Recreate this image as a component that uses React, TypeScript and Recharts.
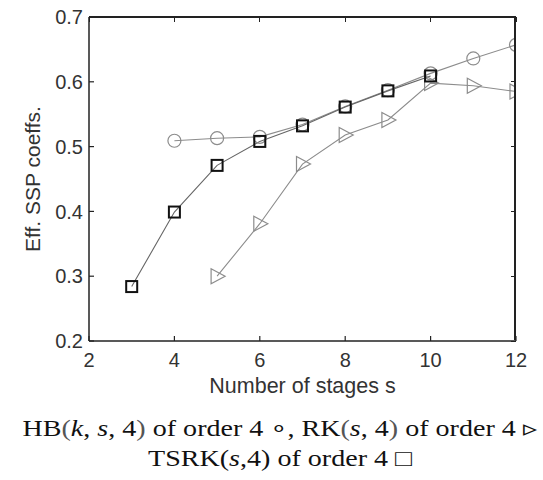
import React from 'react';
import { LineChart, Line, XAxis, YAxis } from 'recharts';

const stages = [3, 4, 5, 6, 7, 8, 9, 10, 11, 12];
const hbValues = [null, 0.509, 0.513, 0.515, 0.534, 0.562, 0.587, 0.613, 0.636, 0.657];
const rkValues = [null, null, 0.3, 0.381, 0.473, 0.518, 0.541, 0.598, 0.594, 0.585];
const tsrkValues = [0.284, 0.399, 0.471, 0.508, 0.532, 0.561, 0.586, 0.609, null, null];
const xTicks = [2, 4, 6, 8, 10, 12];
const yTicks = [0.2, 0.3, 0.4, 0.5, 0.6, 0.7];

const X_DOMAIN: [number, number] = [2, 12];
const Y_DOMAIN: [number, number] = [0.2, 0.7];

const data = stages.map((s, i) => ({
  s,
  hb: hbValues[i],
  rk: rkValues[i],
  tsrk: tsrkValues[i],
}));

const AXIS = '#222';
const GRAY = '#8c8c8c';
const SANS = '"Liberation Sans", Arial, sans-serif';
const tickStyle = { fontFamily: SANS, fontSize: 20, fill: '#333' };

const CHART_W = 543;
const CHART_H = 410;
const MARGIN = { top: 17, right: 27, bottom: 14, left: 29 };
const Y_AXIS_W = 60;
const X_AXIS_H = 55;
const TICK_LEN = 5;

const CircleDot = (props: any) => {
  const { cx, cy, value } = props;
  if (value == null || cx == null || cy == null) return null;
  return <circle cx={cx} cy={cy} r={6.5} fill="none" stroke={GRAY} strokeWidth={1.2} />;
};

const TriangleDot = (props: any) => {
  const { cx, cy, value } = props;
  if (value == null || cx == null || cy == null) return null;
  const pts = `${cx - 6},${cy - 7.5} ${cx + 8},${cy} ${cx - 6},${cy + 7.5}`;
  return <polygon points={pts} fill="none" stroke={GRAY} strokeWidth={1.2} />;
};

const SquareDot = (props: any) => {
  const { cx, cy, value } = props;
  if (value == null || cx == null || cy == null) return null;
  return <rect x={cx - 5.5} y={cy - 5.5} width={11} height={11} fill="none" stroke="#111" strokeWidth={2} />;
};

const lineStyle: React.CSSProperties = {
  transform: 'scaleX(1.22)',
  transformOrigin: '280px 50%',
  whiteSpace: 'nowrap',
};

// Mirrored frame (top + right borders with inward ticks), drawn with HTML boxes over the plot area
const Frame = () => {
  const left = MARGIN.left + Y_AXIS_W;
  const top = MARGIN.top;
  const width = CHART_W - left - MARGIN.right;
  const height = CHART_H - top - MARGIN.bottom - X_AXIS_H;
  const px = (v: number) => left + ((v - X_DOMAIN[0]) / (X_DOMAIN[1] - X_DOMAIN[0])) * width;
  const py = (v: number) => top + ((Y_DOMAIN[1] - v) / (Y_DOMAIN[1] - Y_DOMAIN[0])) * height;
  return (
    <>
      <div
        style={{
          position: 'absolute',
          left: left,
          top: top - 1,
          width: width,
          height: height,
          borderTop: `2px solid ${AXIS}`,
          borderRight: `2px solid ${AXIS}`,
          boxSizing: 'border-box',
          pointerEvents: 'none',
          zIndex: 5,
        }}
      />
      {xTicks.map((t) => (
        <div
          key={`tx${t}`}
          style={{
            position: 'absolute',
            left: px(t) - 0.5,
            top: top,
            width: 1,
            height: TICK_LEN,
            background: AXIS,
            zIndex: 5,
          }}
        />
      ))}
      {yTicks.map((t) => (
        <div
          key={`ty${t}`}
          style={{
            position: 'absolute',
            left: left + width - TICK_LEN,
            top: py(t) - 0.5,
            width: TICK_LEN,
            height: 1,
            background: AXIS,
            zIndex: 5,
          }}
        />
      ))}
    </>
  );
};

export default function App() {
  return (
    <div
      style={{
        position: 'absolute',
        left: 0,
        top: 0,
        width: 543,
        height: 480,
        background: '#fff',
        overflow: 'hidden',
      }}
    >
      <div style={{ position: 'absolute', left: 0, top: 0 }}>
        <LineChart width={CHART_W} height={CHART_H} data={data} margin={MARGIN}>
          <XAxis
            dataKey="s"
            type="number"
            domain={X_DOMAIN}
            ticks={xTicks}
            allowDataOverflow
            height={X_AXIS_H}
            tickSize={-TICK_LEN}
            tickMargin={17}
            tick={tickStyle}
            stroke={AXIS}
            axisLine={{ stroke: AXIS, strokeWidth: 1.5 }}
            tickLine={{ stroke: AXIS, strokeWidth: 1.2 }}
            label={{
              value: 'Number of stages s',
              position: 'insideBottom',
              offset: 3,
              style: { fontFamily: SANS, fontSize: 21.5, fill: '#333' },
            }}
          />
          <YAxis
            type="number"
            domain={Y_DOMAIN}
            ticks={yTicks}
            allowDataOverflow
            width={Y_AXIS_W}
            tickSize={-TICK_LEN}
            tickMargin={11}
            tick={tickStyle}
            tickFormatter={(v: number) => v.toFixed(1)}
            axisLine={{ stroke: AXIS, strokeWidth: 1.5 }}
            tickLine={{ stroke: AXIS, strokeWidth: 1.2 }}
            label={{
              value: 'Eff. SSP coeffs.',
              angle: -90,
              position: 'insideLeft',
              offset: 4,
              style: {
                textAnchor: 'middle',
                fontFamily: SANS,
                fontSize: 21,
                fill: '#333',
              },
            }}
          />
          <Line
            dataKey="hb"
            stroke={GRAY}
            strokeWidth={1.1}
            dot={<CircleDot />}
            activeDot={false}
            isAnimationActive={false}
          />
          <Line
            dataKey="rk"
            stroke={GRAY}
            strokeWidth={1.1}
            dot={<TriangleDot />}
            activeDot={false}
            isAnimationActive={false}
          />
          <Line
            dataKey="tsrk"
            stroke="#666"
            strokeWidth={1.1}
            dot={<SquareDot />}
            activeDot={false}
            isAnimationActive={false}
          />
        </LineChart>
      </div>
      <Frame />
      <div
        style={{
          position: 'absolute',
          left: 0,
          top: 414,
          width: 560,
          textAlign: 'center',
          fontFamily: '"Liberation Serif", "Times New Roman", serif',
          fontSize: 23,
          lineHeight: '30px',
          color: '#111',
        }}
      >
        <div style={lineStyle}>
          HB<span style={{ color: '#555' }}>(</span><i>k</i>, <i>s</i>, 4<span style={{ color: '#555' }}>)</span> of order 4 ∘, RK<span style={{ color: '#555' }}>(</span><i>s</i>, 4<span style={{ color: '#555' }}>)</span> of order 4 ▹
        </div>
        <div style={lineStyle}>
          TSRK(<i>s</i>,4) of order 4 □
        </div>
      </div>
    </div>
  );
}
